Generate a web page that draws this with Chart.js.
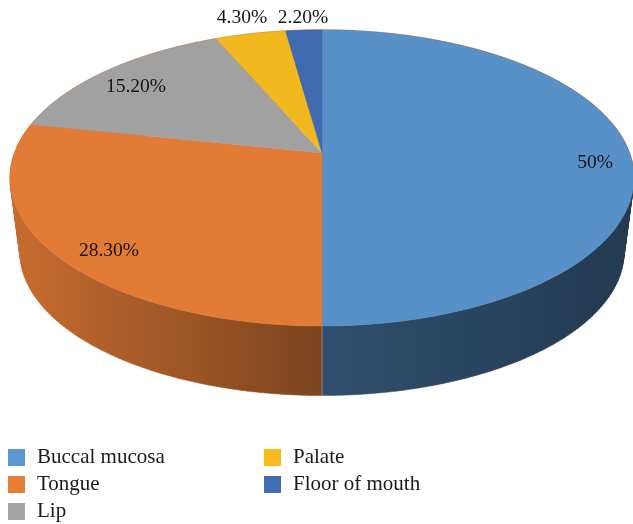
<!DOCTYPE html>
<html>
<head>
<meta charset="utf-8">
<script src="https://cdn.jsdelivr.net/npm/chart.js@4/dist/chart.umd.min.js"></script>
<style>
    html, body { margin: 0; padding: 0; background: #fff; }
    #wrap { position: relative; width: 633px; height: 524px; overflow: hidden; }
    #legend {
        position: absolute; left: 8px; top: 443px;
        display: grid; grid-auto-flow: column;
        grid-template-rows: repeat(3, 27px); grid-template-columns: 256px 200px;
        font-family: "Liberation Serif", serif; font-size: 21px; color: #1a1a1a;
    }
    #legend div { display: flex; align-items: center; white-space: nowrap; }
    #legend i { display: block; width: 17px; height: 17px; margin-right: 12px; position: relative; top: 1px; }
</style>
</head>
<body>
<div id="wrap">
    <canvas id="pieChart" width="633" height="524"></canvas>
    <div id="legend"></div>
</div>
<script>
const categories = ['Buccal mucosa', 'Tongue', 'Lip', 'Palate', 'Floor of mouth'];
const shares = [50, 28.3, 15.2, 4.3, 2.2];
const shareLabels = ['50%', '28.30%', '15.20%', '4.30%', '2.20%'];
const sliceColors = ['#5890c8', '#e27b36', '#a0a1a0', '#f4b81f', '#3f6ab0'];
const legendColors = ['#5b98d2', '#e87d36', '#a5a5a5', '#f7bb1c', '#426db4'];

// pixel centres of the percent labels
const labelSpots = [[595, 163], [109, 251], [136, 87], [242, 18], [303, 18]];

// perspective of the disc, fitted to the picture (apex sits above the ellipse centre)
const view = { cx: 322, cy: 153, w: 307.5, b: 117.9, c: -0.169 };
// the bottom rim is the top rim shrunk towards a vanishing point below the page
const rim = { vy: 2500, s: 0.968 };

function topPoint(a) {
    const u = Math.cos(a), v = Math.sin(a), d = 1 + view.c * v;
    return [view.cx + view.w * u / d, (view.cy + view.b * v) / d];
}

function bottomPoint(a) {
    const p = topPoint(a);
    return [view.cx + rim.s * (p[0] - view.cx), rim.vy - rim.s * (rim.vy - p[1])];
}

function shade(hex, f) {
    const n = parseInt(hex.slice(1), 16);
    return `rgb(${Math.round((n >> 16) * f)},${Math.round(((n >> 8) & 255) * f)},${Math.round((n & 255) * f)})`;
}

function addQuad(ctx, q) {
    // keep every quad wound the same way or the overlaps cancel out at the silhouette
    let area = 0;
    q.forEach((p, i) => {
        const n = q[(i + 1) % 4];
        area += p[0] * n[1] - n[0] * p[1];
    });
    const pts = area < 0 ? q.slice().reverse() : q;
    ctx.moveTo(pts[0][0], pts[0][1]);
    for (let i = 1; i < 4; i++) ctx.lineTo(pts[i][0], pts[i][1]);
    ctx.closePath();
}

const pie3d = {
    id: 'pie3d',
    beforeDatasetDraw(chart, args) {
        const ctx = chart.ctx;
        const arcs = args.meta.data;
        const step = Math.PI / 180;

        ctx.save();

        // walls first, the top face hides whatever is at the back
        arcs.forEach((arc, i) => {
            const g = ctx.createLinearGradient(20, 0, 630, 0);
            g.addColorStop(0, shade(sliceColors[i], 0.87));
            g.addColorStop(0.495, shade(sliceColors[i], 0.55));
            g.addColorStop(1, shade(sliceColors[i], 0.4));
            ctx.beginPath();
            for (let a = arc.startAngle; a < arc.endAngle; a += step) {
                const e = Math.min(a + step, arc.endAngle);
                addQuad(ctx, [topPoint(a), topPoint(e), bottomPoint(e), bottomPoint(a)]);
            }
            ctx.fillStyle = g;
            ctx.strokeStyle = g;
            ctx.lineWidth = 0.5;
            ctx.fill();
            ctx.stroke();
        });

        // pale seam on the wall between the two front slices
        const s1 = topPoint(arcs[0].endAngle), s2 = bottomPoint(arcs[0].endAngle);
        ctx.beginPath();
        ctx.moveTo(s1[0], s1[1]);
        ctx.lineTo(s2[0], s2[1]);
        ctx.strokeStyle = 'rgba(255,255,255,0.3)';
        ctx.lineWidth = 1;
        ctx.stroke();

        // faint orange fringe along the back rim
        ctx.beginPath();
        for (let a = -Math.PI; a <= 0.2; a += step) {
            const p = topPoint(a);
            ctx.lineTo(p[0], p[1] - 0.3);
        }
        ctx.strokeStyle = 'rgba(226,123,54,0.55)';
        ctx.lineWidth = 1;
        ctx.stroke();

        // top face
        arcs.forEach((arc, i) => {
            ctx.beginPath();
            ctx.moveTo(view.cx, view.cy);
            for (let a = arc.startAngle; a < arc.endAngle; a += step / 2) {
                const p = topPoint(a);
                ctx.lineTo(p[0], p[1]);
            }
            const last = topPoint(arc.endAngle);
            ctx.lineTo(last[0], last[1]);
            ctx.closePath();
            ctx.fillStyle = sliceColors[i];
            ctx.strokeStyle = sliceColors[i];
            ctx.lineWidth = 0.5;
            ctx.fill();
            ctx.stroke();
        });

        // percent labels
        ctx.font = '19.5px "Liberation Serif", serif';
        ctx.fillStyle = '#141414';
        ctx.textAlign = 'center';
        ctx.textBaseline = 'middle';
        shareLabels.forEach((t, i) => ctx.fillText(t, labelSpots[i][0], labelSpots[i][1]));

        ctx.restore();
        return false;
    }
};

function buildLegend() {
    const box = document.getElementById('legend');
    categories.forEach((name, i) => {
        const row = document.createElement('div');
        const swatch = document.createElement('i');
        swatch.style.background = legendColors[i];
        row.appendChild(swatch);
        row.appendChild(document.createTextNode(name));
        box.appendChild(row);
    });
}

new Chart(document.getElementById('pieChart'), {
    type: 'pie',
    data: {
        labels: categories,
        datasets: [{ data: shares, backgroundColor: sliceColors, borderWidth: 0 }]
    },
    options: {
        responsive: false,
        animation: false,
        plugins: { legend: { display: false }, tooltip: { enabled: false } }
    },
    plugins: [pie3d]
});
buildLegend();
</script>
</body>
</html>
